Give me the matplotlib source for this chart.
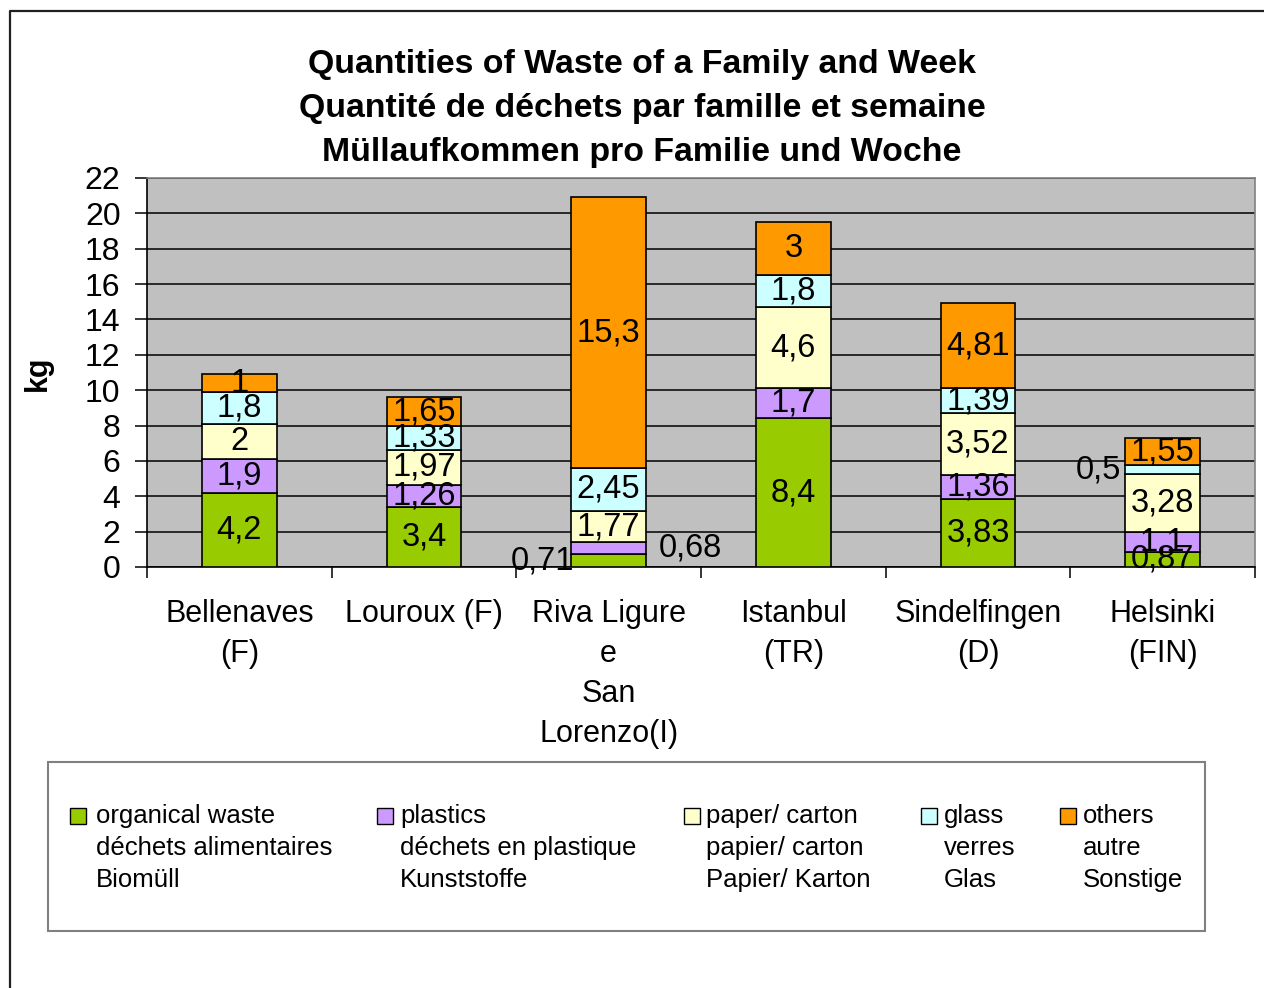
import numpy as np
import matplotlib
matplotlib.use('Agg')
import matplotlib.pyplot as plt
from matplotlib.patches import Rectangle
from matplotlib.lines import Line2D

plt.rcParams['font.family'] = ['Liberation Sans', 'DejaVu Sans']

# Data
#####################################################
cities = ['Bellenaves\n(F)', 'Louroux (F)', 'Riva Ligure\ne\nSan\nLorenzo(I)',
          'Istanbul\n(TR)', 'Sindelfingen\n(D)', 'Helsinki\n(FIN)']
organic = [4.2, 3.4, 0.71, 8.4, 3.83, 0.87]
plastics = [1.9, 1.26, 0.68, 1.7, 1.36, 1.1]
paper = [2, 1.97, 1.77, 4.6, 3.52, 3.28]
glass = [1.8, 1.33, 2.45, 1.8, 1.39, 0.5]
others = [1, 1.65, 15.3, 3, 4.81, 1.55]
series_names = ['organical waste\ndéchets alimentaires\nBiomüll',
                'plastics\ndéchets en plastique\nKunststoffe',
                'paper/ carton\npapier/ carton\nPapier/ Karton',
                'glass\nverres\nGlas',
                'others\nautre\nSonstige']
title = ('Quantities of Waste of a Family and Week\n'
         'Quantité de déchets par famille et semaine\n'
         'Müllaufkommen pro Familie und Woche')

colors = ['#99CC00', '#CC99FF', '#FFFFCC', '#CCFFFF', '#FF9900']

# moved labels (series index, city index) -> (dx in category units, dy in kg)
label_shift = {(0, 2): (-0.36, 0.0), (1, 2): (0.44, 0.0), (3, 5): (-0.35, 0.0)}

W, H = 1264, 988
fig = plt.figure(figsize=(W / 100, H / 100), dpi=100)
ax = fig.add_axes([147 / W, 1 - 567 / H, (1255 - 147) / W, (567 - 178) / H])
ax.set_facecolor('#C0C0C0')

x = np.arange(len(cities))
bottom = np.zeros(len(cities))
all_series = [organic, plastics, paper, glass, others]
for si, vals in enumerate(all_series):
    vals = np.array(vals, dtype=float)
    ax.bar(x, vals, 0.405, bottom=bottom, color=colors[si], edgecolor='black',
           linewidth=1.2, zorder=3)
    for ci in range(len(cities)):
        dx, dy = label_shift.get((si, ci), (0.0, 0.0))
        txt = '{:g}'.format(vals[ci]).replace('.', ',')
        ax.text(x[ci] + dx, bottom[ci] + vals[ci] / 2 + dy, txt, ha='center',
                va='center', fontsize=23.5, zorder=5)
    bottom += vals

ax.set_xlim(-0.5, len(cities) - 0.5)
ax.set_ylim(0, 22)
ax.set_yticks(np.arange(0, 23, 2))
ax.yaxis.grid(True, color='black', linewidth=1.1, zorder=1)
ax.set_axisbelow(True)
ax.tick_params(axis='y', labelsize=23, length=9, width=1.1, direction='out', pad=10)

ax.set_xticks(x)
ax.set_xticklabels(cities)
ax.set_xticks(np.arange(-0.5, len(cities), 1), minor=True)
ax.tick_params(axis='x', which='major', length=0, labelsize=22, pad=23)
ax.tick_params(axis='x', which='minor', length=8, width=1.1, direction='out')
for lab in ax.get_xticklabels():
    lab.set_linespacing(1.44)

for s in ['top', 'right']:
    ax.spines[s].set_color('#808080')
    ax.spines[s].set_linewidth(1.2)
for s in ['left', 'bottom']:
    ax.spines[s].set_color('black')
    ax.spines[s].set_linewidth(1.2)

fig.text(38 / W, 1 - 373 / H, 'kg', rotation=90, fontsize=22, fontweight='bold',
         ha='center', va='center')
fig.text(642 / W, 1 - 49 / H, title, ha='center', va='top', fontsize=24.4,
         fontweight='bold', linespacing=1.55)

# Legend box drawn by hand (markers sit beside the first line)
#####################################################
fig.add_artist(Rectangle((48 / W, 1 - 931 / H), (1205 - 48) / W, (931 - 762) / H,
                         transform=fig.transFigure, facecolor='white',
                         edgecolor='#808080', linewidth=1.5))
marker_x = [70, 377, 684, 921, 1060]
text_x = [96, 400, 706, 944, 1083]
for i, name in enumerate(series_names):
    fig.add_artist(Rectangle((marker_x[i] / W, 1 - 824 / H), 16 / W, 16 / H,
                             transform=fig.transFigure, facecolor=colors[i],
                             edgecolor='black', linewidth=1))
    for li, line in enumerate(name.split('\n')):
        fig.text(text_x[i] / W, 1 - (816 + 32 * li) / H, line, fontsize=18.5,
                 ha='left', va='center')

# outer frame
fig.add_artist(Line2D([10 / W, 10 / W, 1.0], [0.0, 1 - 11 / H, 1 - 11 / H],
                      transform=fig.transFigure, color='#202020', linewidth=1.6))

fig.savefig('out.png', dpi=100)
